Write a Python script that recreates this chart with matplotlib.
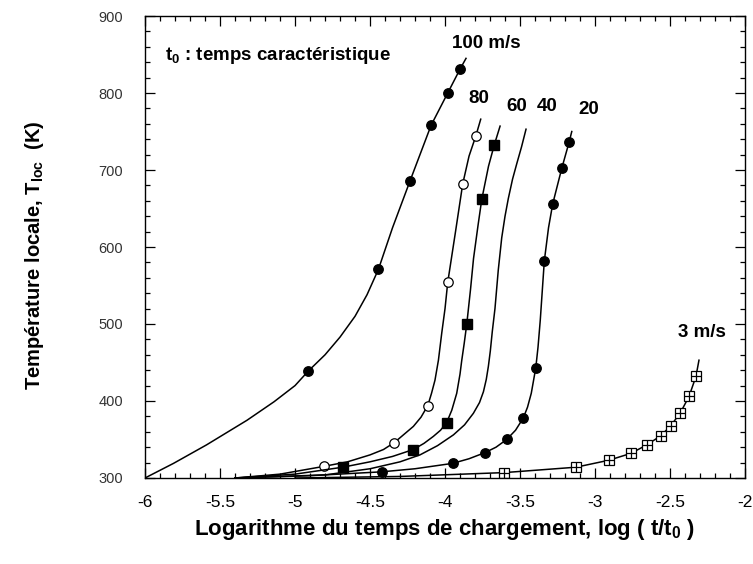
import matplotlib
matplotlib.use("Agg")
import matplotlib.pyplot as plt
from matplotlib.ticker import MultipleLocator

plt.rcParams["font.family"] = ["Liberation Sans", "DejaVu Sans"]
plt.rcParams["mathtext.fontset"] = "custom"
plt.rcParams["mathtext.rm"] = "Liberation Sans"
plt.rcParams["mathtext.bf"] = "Liberation Sans:bold"

# 100 m/s (filled circles)
v100_line_x = [-6.0, -5.81, -5.59, -5.32, -5.14, -5.0, -4.911, -4.8, -4.7, -4.6, -4.52, -4.444, -4.35, -4.233, -4.093, -3.982, -3.9, -3.86]
v100_line_y = [300, 319, 343, 375, 399, 420, 439, 460, 483, 510, 538, 571, 625, 686, 758, 800, 831, 845]
v100_mark_x = [-4.911, -4.444, -4.233, -4.093, -3.982, -3.9]
v100_mark_y = [439, 571, 686, 758, 800, 831]

# 80 m/s (open circles)
v80_line_x = [-5.4, -5.1, -4.81, -4.65, -4.5, -4.41, -4.338, -4.211, -4.16, -4.115, -4.09, -4.067, -4.044, -4.022, -4.0, -3.982, -3.93, -3.882, -3.84, -3.795, -3.762]
v80_line_y = [300, 305, 315, 321, 330, 337, 346, 367, 379, 394, 410, 427, 453, 488, 520, 554, 620, 682, 718, 744, 766]
v80_mark_x = [-4.81, -4.338, -4.115, -3.982, -3.882, -3.795]
v80_mark_y = [315, 346, 394, 554, 682, 744]

# 60 m/s (filled squares)
v60_line_x = [-5.4, -5.0, -4.682, -4.5, -4.35, -4.211, -4.14, -4.078, -4.03, -3.989, -3.955, -3.922, -3.9, -3.889, -3.872, -3.855, -3.83, -3.81, -3.78, -3.755, -3.71, -3.671, -3.633]
v60_line_y = [300, 305, 314, 321, 328, 337, 345, 354, 362, 372, 388, 410, 435, 452, 475, 500, 545, 585, 628, 662, 705, 733, 757]
v60_mark_x = [-4.682, -4.211, -3.989, -3.855, -3.755, -3.671]
v60_mark_y = [314, 337, 372, 500, 662, 733]

# 40 m/s (no markers)
v40_line_x = [-5.4, -4.8, -4.5, -4.3, -4.167, -4.05, -3.944, -3.87, -3.811, -3.77, -3.744, -3.725, -3.711, -3.698, -3.685, -3.667, -3.645, -3.622, -3.6, -3.578, -3.55, -3.522, -3.49, -3.46]
v40_line_y = [300, 304, 312, 321, 330, 342, 356, 369, 384, 398, 412, 428, 445, 465, 490, 520, 570, 612, 640, 663, 688, 708, 730, 753]

# 20 m/s (filled circles)
v20_line_x = [-5.4, -4.9, -4.422, -4.2, -3.949, -3.84, -3.733, -3.66, -3.589, -3.53, -3.478, -3.45, -3.425, -3.395, -3.38, -3.365, -3.338, -3.31, -3.282, -3.222, -3.173, -3.155]
v20_line_y = [300, 303, 308, 312, 319, 325, 333, 340, 350, 362, 378, 392, 410, 443, 470, 505, 582, 625, 656, 702, 736, 750]
v20_mark_x = [-4.422, -3.949, -3.733, -3.589, -3.478, -3.395, -3.338, -3.282, -3.222, -3.173]
v20_mark_y = [308, 319, 333, 350, 378, 443, 582, 656, 702, 736]

# 3 m/s (crossed open squares)
v3_line_x = [-5.0, -4.3, -3.605, -3.127, -2.909, -2.76, -2.655, -2.56, -2.495, -2.433, -2.373, -2.327, -2.307]
v3_line_y = [300, 302, 307, 314, 323, 332, 343, 355, 368, 384, 406, 432, 453]
v3_mark_x = [-3.605, -3.127, -2.909, -2.76, -2.655, -2.56, -2.495, -2.433, -2.373, -2.327]
v3_mark_y = [307, 314, 323, 332, 343, 355, 368, 384, 406, 432]

fig = plt.figure(figsize=(7.53, 5.64), dpi=100)
ax = fig.add_axes([0.1926, 0.1525, 0.7968, 0.8191])

lw = 1.1
ms = 6.8
ax.plot(v100_line_x, v100_line_y, color="black", lw=lw)
ax.plot(v100_mark_x, v100_mark_y, "o", color="black", ms=ms)
ax.plot(v80_line_x, v80_line_y, color="black", lw=lw)
ax.plot(v80_mark_x, v80_mark_y, "o", mfc="white", mec="black", mew=0.9, ms=ms)
ax.plot(v60_line_x, v60_line_y, color="black", lw=lw)
ax.plot(v60_mark_x, v60_mark_y, "s", color="black", ms=ms)
ax.plot(v40_line_x, v40_line_y, color="black", lw=lw)
ax.plot(v20_line_x, v20_line_y, color="black", lw=lw)
ax.plot(v20_mark_x, v20_mark_y, "o", color="black", ms=ms)
ax.plot(v3_line_x, v3_line_y, color="black", lw=lw)
ax.plot(v3_mark_x, v3_mark_y, "s", mfc="white", mec="black", mew=0.9, ms=ms)
ax.plot(v3_mark_x, v3_mark_y, "+", color="black", mew=0.9, ms=ms)

ax.set_xlim(-6, -2)
ax.set_ylim(300, 900)
ax.xaxis.set_minor_locator(MultipleLocator(0.1))
ax.yaxis.set_major_locator(MultipleLocator(100))
ax.yaxis.set_minor_locator(MultipleLocator(20))
ax.set_xticks([-6, -5.5, -5, -4.5, -4, -3.5, -3, -2.5, -2])
ax.set_xticklabels(["-6", "-5.5", "-5", "-4.5", "-4", "-3.5", "-3", "-2.5", "-2"])
ax.tick_params(which="both", direction="in", top=True, right=True, width=0.9)
ax.tick_params(which="major", length=7)
ax.tick_params(which="minor", length=3.5)
ax.tick_params(axis="x", labelsize=12.5, pad=12)
ax.tick_params(axis="y", labelsize=10.5, pad=16, labelcolor="#333333")
for s in ax.spines.values():
    s.set_linewidth(1.0)

ax.set_xlabel(r"Logarithme du temps de chargement, log ( t/$\mathbf{t_0}$ )",
              fontsize=16, fontweight="bold", labelpad=5)
ax.set_ylabel(r"Température locale, $\mathbf{T_{loc}}$  (K)",
              fontsize=14.5, fontweight="bold")
ax.yaxis.set_label_coords(-0.165, 0.483)

tf = dict(fontsize=13.5, fontweight="bold")
ax.text(-5.867, 843, r"$\mathbf{t_0}$ : temps caractéristique", va="baseline", ha="left", **tf)
ax.text(-3.723, 864, "100 m/s", ha="center", va="center", **tf)
ax.text(-3.777, 793, "80", ha="center", va="center", **tf)
ax.text(-3.523, 782, "60", ha="center", va="center", **tf)
ax.text(-3.317, 782, "40", ha="center", va="center", **tf)
ax.text(-3.043, 778, "20", ha="center", va="center", **tf)
ax.text(-2.289, 489, "3 m/s", ha="center", va="center", **tf)

fig.savefig("out.png", dpi=100)
